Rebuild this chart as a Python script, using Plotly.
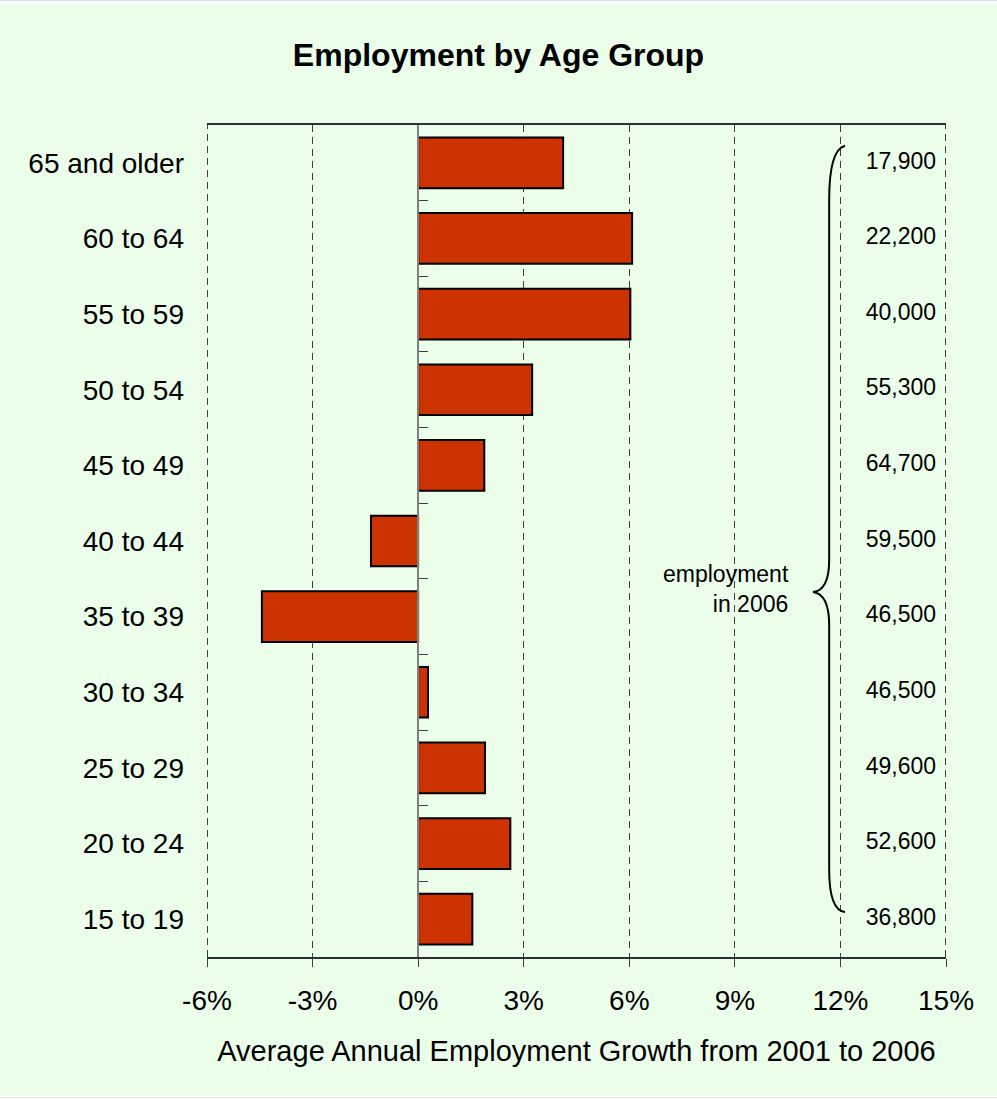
import plotly.graph_objects as go

# age groups, bottom to top as drawn
ages = ["15 to 19", "20 to 24", "25 to 29", "30 to 34", "35 to 39", "40 to 44",
        "45 to 49", "50 to 54", "55 to 59", "60 to 64", "65 and older"]
# average annual employment growth 2001-2006, in percent
growth = [1.54, 2.62, 1.90, 0.28, -4.44, -1.34, 1.88, 3.24, 6.03, 6.08, 4.12]
# employment in 2006
employment_2006 = [36800, 52600, 49600, 46500, 46500, 59500,
                   64700, 55300, 40000, 22200, 17900]
x_ticks = [-6, -3, 0, 3, 6, 9, 12, 15]
x_tick_labels = [f"{v}%" for v in x_ticks]

FONT = "Liberation Sans, Arial, sans-serif"
W, H = 997, 1099
L, R, T, B = 207, 51, 125, 142
x_range = [-6, 15]
y_range = [-0.5, len(ages) - 0.5]
GRID = dict(color="#404040", width=1, dash="7px,5px")


def px_to_paper(px, py):
    # pixel position on the page -> paper coordinates
    return (px - L) / (W - L - R), (H - B - py) / (H - T - B)


fig = go.Figure()

fig.add_trace(go.Bar(
    x=growth, y=ages, orientation="h",
    marker=dict(color="#CC3300", line=dict(color="black", width=2)),
    hoverinfo="x+y", showlegend=False,
))

# employment counts down the right edge (on the overlay axis, which also
# carries the zero-line tick marks)
fig.add_trace(go.Scatter(
    x=[14.72] * len(ages), y=ages, yaxis="y2", mode="text",
    text=[f"{v:,}" for v in employment_2006],
    textposition="middle left",
    textfont=dict(family=FONT, size=23, color="black"),
    cliponaxis=False, hoverinfo="skip", showlegend=False,
))

# plotly leaves out grid lines on the range ends; draw those two by hand
# (paper refs so they are not clipped, nudged half a pixel to stay crisp)
for px in (L + 0.5, W - R - 0.5):
    xp, _ = px_to_paper(px, 0)
    fig.add_shape(type="line", xref="paper", yref="paper", x0=xp, x1=xp, y0=0, y1=1,
                  line=GRID, layer="above")

# curly brace grouping the counts
brace = ("M 12.13,0.975 Q 11.68,0.970 11.68,0.910 "
         "L 11.68,0.477 Q 11.68,0.441 11.22,0.4387 "
         "Q 11.68,0.436 11.68,0.399 "
         "L 11.68,0.105 Q 11.68,0.0565 12.13,0.054")
fig.add_shape(type="path", path=brace, xref="x", yref="paper",
              line=dict(color="black", width=2))

fig.add_annotation(
    x=10.6, y=0.442, xref="x", yref="paper",
    text="employment<br>in 2006", showarrow=False,
    xanchor="right", yanchor="middle", align="right",
    font=dict(family=FONT, size=23, color="black"),
)

# green page panel with thin grey rules above and below
x0, y0 = px_to_paper(0, 1096)
x1, y1 = px_to_paper(W, 4)
fig.add_shape(type="rect", xref="paper", yref="paper", x0=x0, x1=x1, y0=y0, y1=y1,
              fillcolor="#EAFEEA", line_width=0, layer="below")
for py in (0.5, 1097.5):
    _, yy = px_to_paper(0, py)
    fig.add_shape(type="line", xref="paper", yref="paper", x0=x0, x1=x1, y0=yy, y1=yy,
                  line=dict(color="#E0E0E0", width=1), layer="below")

fig.update_layout(
    width=W, height=H, autosize=False,
    margin=dict(l=L, r=R, t=T, b=B),
    paper_bgcolor="white", plot_bgcolor="white",
    font=dict(family=FONT, color="black"),
    title=dict(text="<b>Employment by Age Group</b>", x=0.5, xanchor="center",
               y=0.95, yanchor="middle", font=dict(family=FONT, size=32)),
    bargap=0.33,
    xaxis=dict(
        range=x_range, tickvals=x_ticks, ticktext=x_tick_labels,
        showgrid=True, gridcolor=GRID["color"], gridwidth=1, griddash=GRID["dash"],
        zeroline=False,
        showline=True, linecolor="#303030", linewidth=2, mirror=True,
        ticks="outside", ticklen=8, tickcolor="#404040", tickwidth=1,
        tickfont=dict(size=28), ticklabelstandoff=9,
        title=dict(text="Average Annual Employment Growth from 2001 to 2006",
                   font=dict(size=29), standoff=26),
    ),
    yaxis=dict(
        type="category", categoryorder="array", categoryarray=ages,
        range=y_range, showgrid=False, zeroline=False, showline=False,
        ticks="", tickfont=dict(size=28), ticklabelstandoff=22,
    ),
    yaxis2=dict(
        type="category", categoryorder="array", categoryarray=ages,
        range=y_range, overlaying="y", anchor="free", side="left",
        position=(0 - x_range[0]) / (x_range[1] - x_range[0]),
        showgrid=False, zeroline=False,
        showline=True, linecolor="#808080", linewidth=2,
        ticks="inside", ticklen=9, tickson="boundaries",
        tickcolor="#404040", tickwidth=1, showticklabels=False,
    ),
)

fig.write_html("out.html", config={"displayModeBar": False},
               post_script="document.body.style.margin='0';")
